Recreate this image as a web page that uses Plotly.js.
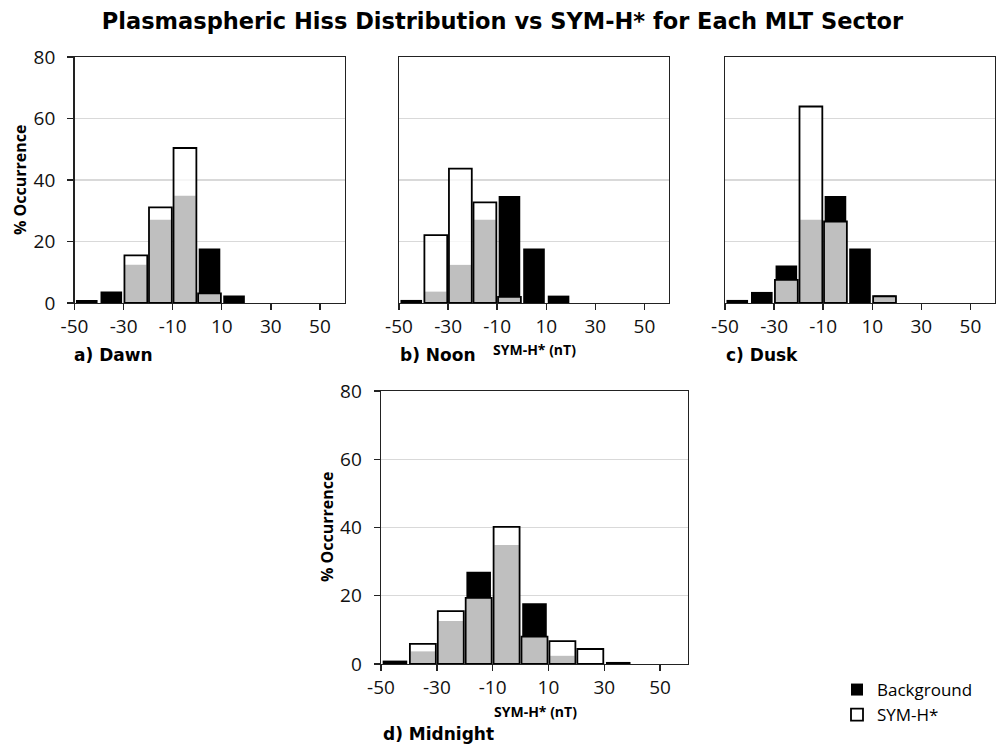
<!DOCTYPE html>
<html>
<head>
<meta charset="utf-8">
<script src="https://cdn.plot.ly/plotly-3.0.1.min.js"></script>
<style>
  html, body { margin: 0; padding: 0; background: #fff; }
  #chart { width: 1005px; height: 746px; }
</style>
</head>
<body>
<div id="chart"></div>
<script>
// SYM-H* bin centres (nT), 10 nT wide bins
const binCenters = [-45, -35, -25, -15, -5, 5, 15, 25, 35, 45, 55];

// % occurrence per bin, background distribution and SYM-H* distribution
const dawnBackground      = [1.0, 3.7, 12.4, 27.1, 34.9, 17.7, 2.4, 0, 0, 0, 0];
const dawnSymH            = [0, 0, 15.5, 31.1, 50.4, 3.1, 0, 0, 0, 0, 0];
const noonBackground      = [1.0, 3.7, 12.4, 27.1, 34.8, 17.7, 2.4, 0, 0, 0, 0];
const noonSymH            = [0, 22.1, 43.7, 32.7, 2.0, 0, 0, 0, 0, 0, 0];
const duskBackground      = [1.0, 3.6, 12.2, 27.1, 34.8, 17.7, 2.4, 0, 0, 0, 0];
const duskSymH            = [0, 0, 7.5, 63.9, 26.5, 0, 2.2, 0, 0, 0, 0];
const midnightBackground  = [1.0, 3.7, 12.6, 27.0, 34.9, 17.8, 2.4, 0, 0.6, 0, 0];
const midnightSymH        = [0, 5.9, 15.5, 19.4, 40.2, 8.0, 6.7, 4.4, 0, 0, 0];

// tick labels
const xTickVals = [-50, -30, -10, 10, 30, 50];
const xTickText = ['-50', '-30', '-10', '10', '30', '50'];
const yTickVals = [0, 20, 40, 60, 80];
const yTickText = ['0', '20', '40', '60', '80'];

const panels = [
  { label: 'a) Dawn',     bg: dawnBackground,     sym: dawnSymH,     xa: 'x',  ya: 'y'  },
  { label: 'b) Noon',     bg: noonBackground,     sym: noonSymH,     xa: 'x2', ya: 'y2' },
  { label: 'c) Dusk',     bg: duskBackground,     sym: duskSymH,     xa: 'x3', ya: 'y3' },
  { label: 'd) Midnight', bg: midnightBackground, sym: midnightSymH, xa: 'x4', ya: 'y4' }
];

const W = 1005, H = 746;
const px = v => v / W;
const py = v => 1 - v / H;

const traces = [];
panels.forEach((p, i) => {
  traces.push({
    type: 'bar', name: 'Background',
    x: binCenters, y: p.bg.map(v => v > 0 ? v : null),
    width: 8.8,
    marker: { color: '#000000', line: { width: 0 } },
    xaxis: p.xa, yaxis: p.ya,
    showlegend: i === 0, legendgroup: 'bg', hoverinfo: 'x+y+name'
  });
  // translucent white over black gives the grey overlap
  traces.push({
    type: 'bar', name: 'SYM-H*',
    x: binCenters, y: p.sym.map(v => v > 0 ? v : null),
    width: 9.3,
    marker: { color: 'rgba(255,255,255,0.75)', line: { color: '#000000', width: 1.8 } },
    xaxis: p.xa, yaxis: p.ya,
    showlegend: i === 0, legendgroup: 'sym', hoverinfo: 'x+y+name'
  });
});

const tickFont = { family: 'Open Sans, Noto Sans, sans-serif', size: 19, color: '#111' };

function xAxis(domain, anchor) {
  return {
    domain: domain, anchor: anchor, range: [-50, 60],
    tickmode: 'array', tickvals: xTickVals, ticktext: xTickText,
    ticks: 'outside', ticklen: 6, tickwidth: 1.4, tickcolor: '#222',
    showline: true, linecolor: '#222', linewidth: 1.4, mirror: true,
    showgrid: false, zeroline: false, tickfont: tickFont, fixedrange: true
  };
}
function yAxis(domain, anchor, showLabels) {
  return {
    domain: domain, anchor: anchor, range: [0, 80],
    tickmode: 'array', tickvals: yTickVals, ticktext: yTickText,
    ticks: showLabels ? 'outside' : '', ticklen: 6, tickwidth: 1.4, tickcolor: '#222',
    showticklabels: showLabels, ticklabelstandoff: 8,
    showline: true, linecolor: '#222', linewidth: 1.4, mirror: true,
    showgrid: true, gridcolor: '#d9d9d9', gridwidth: 1.4,
    zeroline: false, tickfont: tickFont, fixedrange: true
  };
}

const topRow = [py(303), py(57)];
const layout = {
  width: W, height: H,
  margin: { l: 0, r: 0, t: 0, b: 0 },
  paper_bgcolor: '#ffffff', plot_bgcolor: '#ffffff',
  barmode: 'overlay',
  title: {
    text: 'Plasmaspheric Hiss Distribution vs SYM-H* for Each MLT Sector',
    font: { family: 'DejaVu Sans, Verdana, sans-serif', size: 22.5, color: '#000', weight: 'bold' },
    x: 0.5, xanchor: 'center', y: py(21), yanchor: 'middle'
  },
  xaxis:  xAxis([px(74.5), px(344.5)], 'y'),
  yaxis:  yAxis(topRow, 'x', true),
  xaxis2: xAxis([px(399), px(669)], 'y2'),
  yaxis2: yAxis(topRow, 'x2', false),
  xaxis3: xAxis([px(725), px(995)], 'y3'),
  yaxis3: yAxis(topRow, 'x3', false),
  xaxis4: xAxis([px(381), px(688)], 'y4'),
  yaxis4: yAxis([py(664), py(391)], 'x4', true),
  showlegend: true,
  legend: {
    x: px(837), y: py(672), xanchor: 'left', yanchor: 'top',
    font: { family: 'Open Sans, Noto Sans, sans-serif', size: 17, color: '#000' },
    bgcolor: 'rgba(0,0,0,0)', traceorder: 'normal'
  },
  annotations: []
};

const labelFont = { family: 'DejaVu Sans, Verdana, sans-serif', size: 17, color: '#000', weight: 'bold' };
const axisTitleFont = { family: 'Open Sans, Noto Sans, sans-serif', size: 14, color: '#000', weight: 'bold' };
const yTitleFont = { family: 'Open Sans, Noto Sans, sans-serif', size: 16, color: '#000', weight: 'bold' };

const labelPos = [[72, 355], [398, 355], [724, 355], [381, 734]];
panels.forEach((p, i) => {
  layout.annotations.push({
    text: p.label, xref: 'paper', yref: 'paper',
    x: px(labelPos[i][0]), y: py(labelPos[i][1]),
    xanchor: 'left', yanchor: 'middle', showarrow: false, font: labelFont
  });
});
[[534, 349], [535, 711]].forEach(pos => {
  layout.annotations.push({
    text: 'SYM-H* (nT)', xref: 'paper', yref: 'paper',
    x: px(pos[0]), y: py(pos[1]), xanchor: 'center', yanchor: 'middle',
    showarrow: false, font: axisTitleFont
  });
});
[[20, 180], [327, 527]].forEach(pos => {
  layout.annotations.push({
    text: '% Occurrence', xref: 'paper', yref: 'paper',
    x: px(pos[0]), y: py(pos[1]), xanchor: 'center', yanchor: 'middle',
    textangle: -90, showarrow: false, font: yTitleFont
  });
});

Plotly.newPlot('chart', traces, layout, { displayModeBar: false, staticPlot: true });
</script>
</body>
</html>
